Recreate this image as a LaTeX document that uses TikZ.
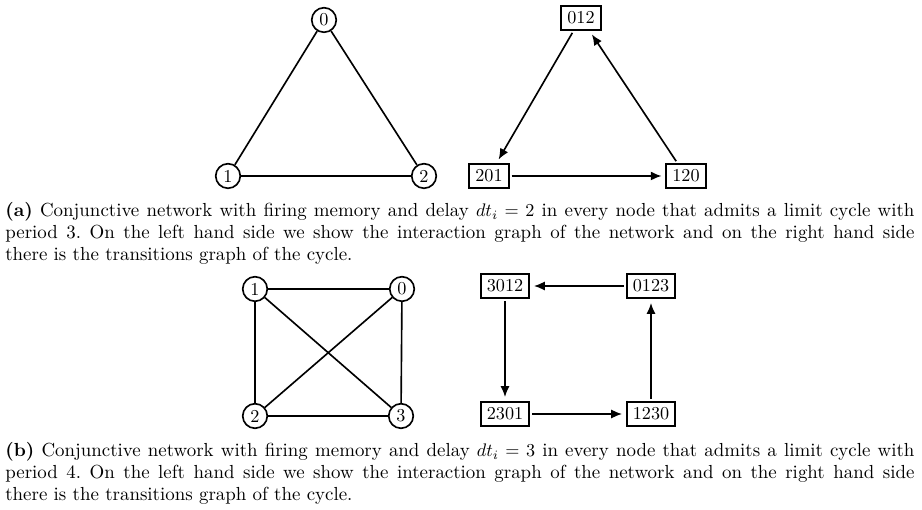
\documentclass[tikz,border=0pt]{standalone}
\usepackage{amsmath}
\usetikzlibrary{arrows.meta}

\begin{document}
\begin{tikzpicture}[
    x=0.55pt, y=-0.55pt,
    vertex/.style={circle, draw, line width=0.9pt, inner sep=0pt, minimum size=13.5pt},
    config/.style={rectangle, draw, line width=1.1pt},
    link/.style={line width=0.9pt},
    trans/.style={-{Latex[length=6pt,width=5pt]}, line width=0.9pt, shorten >=2pt, shorten <=1pt},
    caption/.style={anchor=north west, inner sep=0pt, text width=500pt, align=justify, font=\fontsize{10.4}{12}\selectfont\frenchspacing}
]
\useasboundingbox (0,0) rectangle (922,510);

% (a) interaction graph
\node[vertex] (a0) at (324,20) {0};
\node[vertex] (a1) at (228,176) {1};
\node[vertex] (a2) at (424,176) {2};

\draw[link] (a0) -- (a1);
\draw[link] (a0) -- (a2);
\draw[link] (a1) -- (a2);

% (a) transitions graph
\node[config] (c012) at (581,18) {012};
\node[config] (c201) at (489,176) {201};
\node[config] (c120) at (686,176) {120};

\draw[trans] (c012) -- (c201);
\draw[trans] (c201) -- (c120);
\draw[trans] (c120) -- (c012);

\node[caption] (capa) at (5,202) {\textbf{(a)} Conjunctive network with firing memory and delay $dt_i = 2$ in every node that admits a limit cycle with\linebreak period 3. On the left hand side we show the interaction graph of the network and on the right hand side\linebreak there is the transitions graph of the cycle.};

% (b) interaction graph
\node[vertex] (b1) at (255,289) {1};
\node[vertex] (b0) at (402,289) {0};
\node[vertex] (b2) at (255,416) {2};
\node[vertex] (b3) at (401,416) {3};

\draw[link] (b1) -- (b0);
\draw[link] (b1) -- (b2);
\draw[link] (b1) -- (b3);
\draw[link] (b0) -- (b2);
\draw[link] (b0) -- (b3);
\draw[link] (b2) -- (b3);

% (b) transitions graph
\node[config] (c3012) at (505,286) {3012};
\node[config] (c0123) at (651,286) {0123};
\node[config] (c2301) at (505,414) {2301};
\node[config] (c1230) at (651,414) {1230};

\draw[trans] (c0123) -- (c3012);
\draw[trans] (c3012) -- (c2301);
\draw[trans] (c2301) -- (c1230);
\draw[trans] (c1230) -- (c0123);

\node[caption] (capb) at (5,442) {\textbf{(b)} Conjunctive network with firing memory and delay $dt_i = 3$ in every node that admits a limit cycle with\linebreak period 4. On the left hand side we show the interaction graph of the network and on the right hand side\linebreak there is the transitions graph of the cycle.};

\end{tikzpicture}
\end{document}
